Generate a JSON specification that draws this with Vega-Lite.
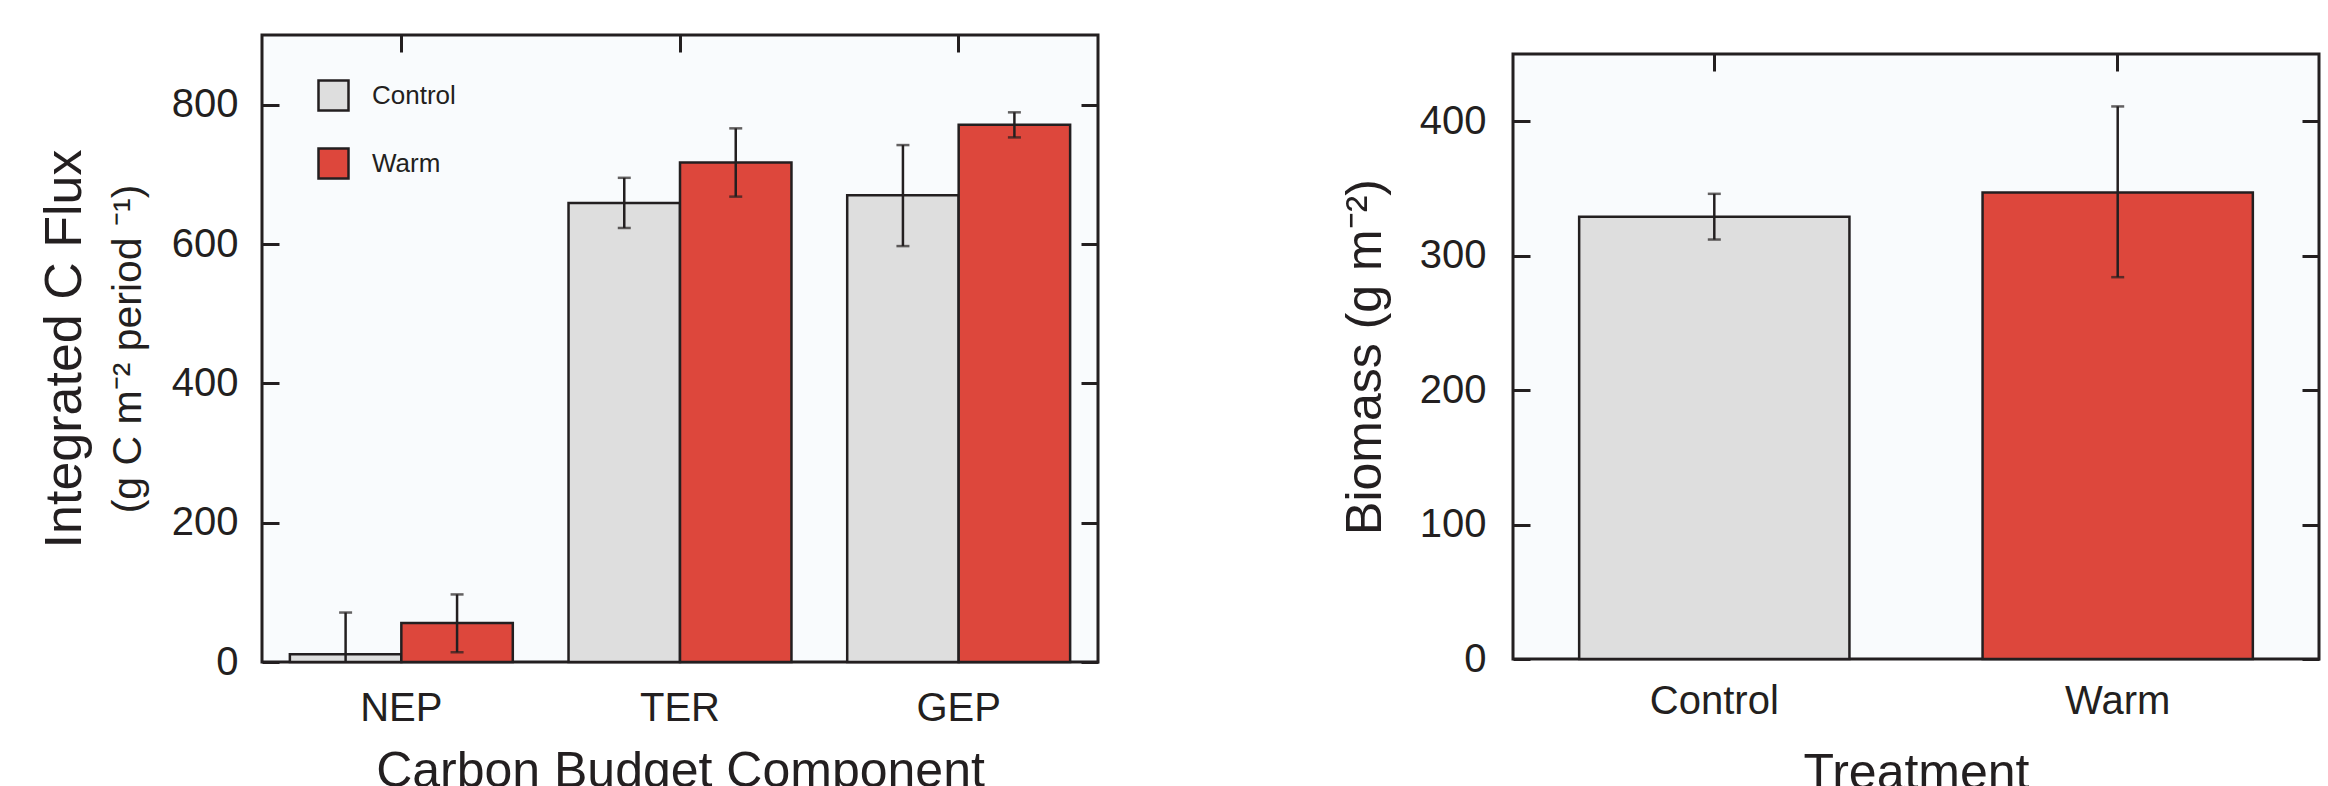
{
  "$schema": "https://vega.github.io/schema/vega-lite/v6.json",
  "background": "white",
  "padding": {"left": 36, "top": 32, "right": 5, "bottom": 0},
  "datasets": {
    "flux": [
      {"component": "NEP", "Treatment": "Control", "value": 11, "lo": -49, "hi": 71},
      {"component": "NEP", "Treatment": "Warm", "value": 56, "lo": 14, "hi": 97},
      {"component": "TER", "Treatment": "Control", "value": 659, "lo": 623, "hi": 695},
      {"component": "TER", "Treatment": "Warm", "value": 717, "lo": 668, "hi": 766},
      {"component": "GEP", "Treatment": "Control", "value": 670, "lo": 597, "hi": 742},
      {"component": "GEP", "Treatment": "Warm", "value": 771, "lo": 753, "hi": 789}
    ],
    "biomass": [
      {"Treatment": "Control", "value": 329, "lo": 312, "hi": 346},
      {"Treatment": "Warm", "value": 347, "lo": 284, "hi": 411}
    ],
    "blank": [{"k": 0}]
  },
  "spacing": 237,
  "resolve": {"scale": {"color": "independent"}, "legend": {"color": "independent"}},
  "hconcat": [
    {
      "width": 836,
      "height": 627,
      "data": {"name": "flux"},
      "layer": [
        {
          "mark": {"type": "bar", "stroke": "#231f20", "strokeWidth": 2.5},
          "encoding": {
            "x": {"field": "component", "type": "nominal", "sort": ["NEP", "TER", "GEP"],
                  "scale": {"paddingInner": 0.2, "paddingOuter": 0.1},
                  "axis": {"orient": "bottom", "title": "Carbon Budget Component", "ticks": false, "labelAngle": 0, "labelPadding": 26, "titlePadding": 18}},
            "xOffset": {"field": "Treatment", "type": "nominal", "sort": ["Control", "Warm"]},
            "y": {"field": "value", "type": "quantitative", "scale": {"domain": [0, 900], "nice": false},
                  "axis": {"orient": "left", "title": "Integrated C Flux", "titleFontSize": 52, "values": [0, 200, 400, 600, 800], "tickSize": -17, "labelPadding": 41, "titlePadding": 80}},
            "color": {"field": "Treatment", "type": "nominal", "sort": ["Control", "Warm"],
                      "scale": {"domain": ["Control", "Warm"], "range": ["#dedede", "#dd473c"]},
                      "legend": {"orient": "none", "legendX": 55, "legendY": 44, "title": null}}
          }
        },
        {
          "mark": {"type": "rule", "stroke": "#231f20", "strokeWidth": 2.5, "clip": true},
          "encoding": {
            "x": {"field": "component", "type": "nominal", "sort": ["NEP", "TER", "GEP"], "axis": null},
            "xOffset": {"field": "Treatment", "type": "nominal", "sort": ["Control", "Warm"]},
            "y": {"field": "lo", "type": "quantitative", "scale": {"domain": [0, 900], "nice": false},
                  "axis": {"orient": "left", "title": "(g C m⁻² period ⁻¹)", "titleFontSize": 41, "labels": false, "ticks": false, "domain": true, "domainOpacity": 0, "titlePadding": 113}},
            "y2": {"field": "hi"}
          }
        },
        {
          "mark": {"type": "tick", "size": 13, "thickness": 2.5, "color": "#231f20", "clip": true},
          "encoding": {
            "x": {"field": "component", "type": "nominal", "sort": ["NEP", "TER", "GEP"],
                  "axis": {"orient": "top", "labels": false, "tickSize": -17, "title": null}},
            "xOffset": {"field": "Treatment", "type": "nominal", "sort": ["Control", "Warm"]},
            "y": {"field": "hi", "type": "quantitative", "scale": {"domain": [0, 900], "nice": false},
                  "axis": {"orient": "right", "labels": false, "tickSize": -17, "title": null, "values": [0, 200, 400, 600, 800]}}
          }
        },
        {
          "mark": {"type": "tick", "size": 13, "thickness": 2.5, "color": "#231f20", "clip": true},
          "encoding": {
            "x": {"field": "component", "type": "nominal", "sort": ["NEP", "TER", "GEP"], "axis": null},
            "xOffset": {"field": "Treatment", "type": "nominal", "sort": ["Control", "Warm"]},
            "y": {"field": "lo", "type": "quantitative", "scale": {"domain": [0, 900], "nice": false}, "axis": null}
          }
        }
      ],
      "resolve": {"axis": {"x": "independent", "y": "independent"}}
    },
    {
      "spacing": 0,
      "vconcat": [
        {
          "width": 10,
          "height": 16,
          "view": {"stroke": null, "fill": null},
          "data": {"name": "blank"},
          "mark": {"type": "point", "opacity": 0},
          "encoding": {}
        },
        {
          "width": 806,
          "height": 605,
          "data": {"name": "biomass"},
          "layer": [
            {
              "mark": {"type": "bar", "stroke": "#231f20", "strokeWidth": 2.5},
              "encoding": {
                "x": {"field": "Treatment", "type": "nominal", "sort": ["Control", "Warm"],
                      "scale": {"paddingInner": 0.33, "paddingOuter": 0.164},
                      "axis": {"orient": "bottom", "title": "Treatment", "ticks": false, "labelAngle": 0, "labelPadding": 22, "titlePadding": 27}},
                "y": {"field": "value", "type": "quantitative", "scale": {"domain": [0, 450], "nice": false},
                      "axis": {"orient": "left", "title": "Biomass (g m⁻²)", "values": [0, 100, 200, 300, 400], "tickSize": -17, "labelPadding": 44, "titlePadding": 29}},
                "color": {"field": "Treatment", "type": "nominal",
                          "scale": {"domain": ["Control", "Warm"], "range": ["#dedede", "#dd473c"]},
                          "legend": null}
              }
            },
            {
              "mark": {"type": "rule", "stroke": "#231f20", "strokeWidth": 2.5},
              "encoding": {
                "x": {"field": "Treatment", "type": "nominal", "sort": ["Control", "Warm"],
                      "axis": {"orient": "top", "labels": false, "tickSize": -17, "title": null}},
                "y": {"field": "lo", "type": "quantitative", "scale": {"domain": [0, 450], "nice": false},
                      "axis": {"orient": "right", "labels": false, "tickSize": -17, "title": null, "values": [0, 100, 200, 300, 400]}},
                "y2": {"field": "hi"}
              }
            },
            {
              "mark": {"type": "tick", "size": 13, "thickness": 2.5, "color": "#231f20"},
              "encoding": {
                "x": {"field": "Treatment", "type": "nominal", "sort": ["Control", "Warm"], "axis": null},
                "y": {"field": "hi", "type": "quantitative", "scale": {"domain": [0, 450], "nice": false}, "axis": null}
              }
            },
            {
              "mark": {"type": "tick", "size": 13, "thickness": 2.5, "color": "#231f20"},
              "encoding": {
                "x": {"field": "Treatment", "type": "nominal", "sort": ["Control", "Warm"], "axis": null},
                "y": {"field": "lo", "type": "quantitative", "scale": {"domain": [0, 450], "nice": false}, "axis": null}
              }
            }
          ],
          "resolve": {"axis": {"x": "independent", "y": "independent"}}
        }
      ]
    }
  ],
  "config": {
    "font": "Liberation Sans",
    "view": {"stroke": "#231f20", "strokeWidth": 3, "fill": "#f9fbfd"},
    "axis": {
      "grid": false, "domain": false,
      "labelFont": "Liberation Sans", "labelFontSize": 40, "labelColor": "#231f20",
      "titleFont": "Liberation Sans", "titleFontSize": 50, "titleFontWeight": "normal", "titleColor": "#231f20",
      "tickColor": "#231f20", "tickWidth": 3
    },
    "legend": {
      "symbolType": "square", "symbolSize": 900, "symbolStrokeColor": "#231f20", "symbolStrokeWidth": 2.5,
      "symbolOpacity": 1, "labelFont": "Liberation Sans", "labelFontSize": 26, "labelColor": "#231f20",
      "labelOffset": 22, "rowPadding": 27, "padding": 0
    },
    "title": {"font": "Liberation Sans"}
  }
}
